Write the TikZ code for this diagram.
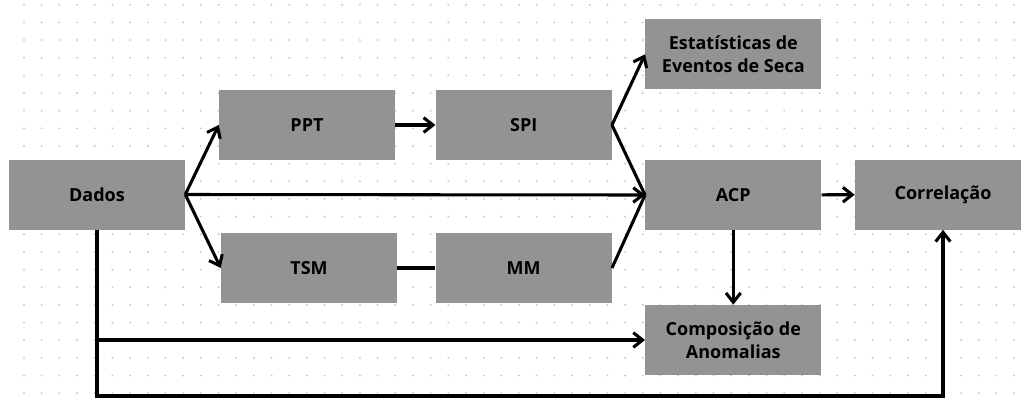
\documentclass[tikz,border=0pt]{standalone}
\usepackage{fontspec}
\setmainfont{Open Sans}
\usetikzlibrary{arrows.meta}
\definecolor{caixa}{RGB}{147,147,147}
\definecolor{ponto}{RGB}{196,200,210}
\begin{document}
\begin{tikzpicture}[x=0.75pt,y=-0.75pt,
        box/.style={fill=caixa,minimum width=132pt,minimum height=52.5pt,inner sep=0pt,align=center,font=\fontsize{13.5}{17}\selectfont\bfseries},
        linha/.style={line width=2.3pt},
        seta/.style={linha,-{Straight Barb[length=7pt,width=11pt,line width=2.3pt]}}]
        \useasboundingbox[fill=white] (0,0) rectangle (1021,408);
        % grade de pontos
        \foreach \i in {0,...,57}
            \foreach \j in {0,...,22}
                \fill[ponto] (24+\i*17.68,4.7+\j*17.66) circle[radius=0.8pt];
        \node[box](dados) at (97,194.5) {Dados};
        \node[box](ppt) at (307,125) {PPT};
        \node[box](tsm) at (309,268) {TSM};
        \node[box](spi) at (523.7,125) {SPI};
        \node[box](mm) at (523.7,268) {MM};
        \node[box](est) at (733.3,54.3) {Estatísticas de\\Eventos de Seca};
        \node[box](acp) at (733.3,195) {ACP};
        \node[box](comp) at (733.3,340) {Composição de\\Anomalias};
        \node[box](corr) at (943,194.5) {Correlação};
        \coordinate(fundo) at (97,396);
        \draw[seta](dados.east)--(ppt.west);
        \draw[seta](dados.east)--(tsm.west);
        \draw[seta](dados.east)--(acp.west);
        \draw[seta](ppt)--(spi);
        \draw[linha](tsm)--(mm);
        \draw[seta](spi.east)--(est.west);
        \draw[linha](spi.east)--(acp.west);
        \draw[linha](mm.east)--(acp.west);
        \draw[seta](acp)--(corr);
        \draw[seta](acp)--(comp);
        \draw[seta](dados.south)|-(comp.west);
        \draw[seta](dados.south)--(fundo)-|(corr.south);
\end{tikzpicture}
\end{document}
